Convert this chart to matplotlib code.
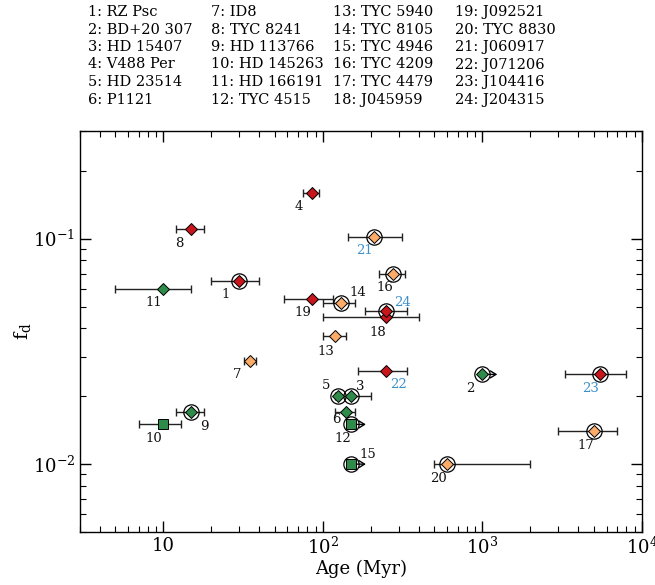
import numpy as np
import matplotlib
matplotlib.use("Agg")
from matplotlib import pyplot as plt
from matplotlib.ticker import FuncFormatter, LogLocator, NullFormatter

plt.rcParams['font.family'] = 'DejaVu Serif'
plt.rcParams['mathtext.fontset'] = 'dejavuserif'

# star names for the list on top
names = ["RZ Psc", "BD+20 307", "HD 15407", "V488 Per", "HD 23514", "P1121",
         "ID8", "TYC 8241", "HD 113766", "HD 145263", "HD 166191", "TYC 4515",
         "TYC 5940", "TYC 8105", "TYC 4946", "TYC 4209", "TYC 4479", "J045959",
         "J092521", "TYC 8830", "J060917", "J071206", "J104416", "J204315"]

# age (Myr) with lower / upper bound of the error bar (nan = no bar)
age = [30, 1000, 150, 85, 125, 140, 35, 15, 15, 10, 10, 150,
       120, 130, 150, 275, 5000, 250, 85, 600, 210, 250, 5500, 250]
age_lo = [20, np.nan, 120, 75, np.nan, 120, 32, 12, 12, 7, 5, np.nan,
          100, 100, np.nan, 225, 3000, 100, 57, 500, 143, 166, 3300, 185]
age_hi = [40, np.nan, 200, 95, np.nan, 160, 38, 18, 18, 13, 15, np.nan,
          140, 160, np.nan, 325, 7000, 400, 115, 2000, 315, 335, 7900, 335]

# fractional luminosity
fd = [0.065, 0.025, 0.020, 0.16, 0.020, 0.017, 0.0287, 0.11, 0.017, 0.015,
      0.060, 0.015, 0.037, 0.052, 0.010, 0.070, 0.014, 0.045, 0.054, 0.010,
      0.102, 0.026, 0.025, 0.048]

# r = red, g = green, o = orange
group = ["r", "g", "g", "r", "g", "g", "o", "r", "g", "g", "g", "g",
         "o", "o", "g", "o", "o", "r", "r", "o", "o", "r", "r", "r"]
square = [10, 12, 15]
circled = [1, 2, 3, 5, 9, 12, 14, 15, 16, 17, 20, 21, 23, 24]
lower_limit = [2, 12, 15]
blue_label = [21, 22, 23, 24]

colors = {"r": "#c8161d", "g": "#2e8b4a", "o": "#fdab68"}
# label offsets in points (dx, dy)
offs = {1: (-10, -10), 2: (-9, -10), 3: (7, 7), 4: (-9, -10), 5: (-9, 8),
        6: (-7, -5), 7: (-9, -10), 8: (-9, -10), 9: (9, -10), 10: (-7, -10),
        11: (-7, -10), 12: (-6, -10), 13: (-7, -11), 14: (12, 7), 15: (12, 7),
        16: (-6, -10), 17: (-6, -10), 18: (-6, -11), 19: (-6, -10),
        20: (-6, -10), 21: (-7, -10), 22: (9, -10), 23: (-7, -10), 24: (12, 6)}

fig = plt.figure(figsize=(6.55, 5.85), dpi=100)
ax = fig.add_axes([0.122, 0.0906, 0.858, 0.6854])

for i in range(len(age)):
    n = i + 1
    x, y = age[i], fd[i]
    if not np.isnan(age_lo[i]):
        ax.errorbar([x], [y], xerr=[[x - age_lo[i]], [age_hi[i] - x]], fmt='none',
                    ecolor='#222222', elinewidth=1, capsize=3, capthick=1, zorder=2)
    if n in lower_limit:
        ax.annotate('', xy=(x * 1.24, y), xytext=(x, y),
                    arrowprops=dict(arrowstyle='->,head_length=0.4,head_width=0.25',
                                    lw=1, color='k', shrinkA=0, shrinkB=0,
                                    mutation_scale=10), zorder=2)
    if n in circled:
        ax.plot(x, y, 'o', ms=11, mfc='none', mec='k', mew=0.9, zorder=3)
    if n in square:
        ax.plot(x, y, 's', ms=6.5, mfc=colors[group[i]], mec='k', mew=0.7, zorder=4)
    else:
        ax.plot(x, y, 'D', ms=6.5, mfc=colors[group[i]], mec='k', mew=0.7, zorder=4)
    lc = '#3d8fcc' if n in blue_label else '#111111'
    ax.annotate(str(n), (x, y), xytext=offs[n], textcoords='offset points',
                ha='center', va='center', fontsize=9.5, color=lc)

ax.set_xscale('log')
ax.set_yscale('log')
ax.set_xlim(3, 1e4)
ax.set_ylim(0.005, 0.3)


def xfmt(v, pos):
    e = int(round(np.log10(v)))
    if e == 1:
        return "10"
    return r"$10^{%d}$" % e


def yfmt(v, pos):
    e = int(round(np.log10(v)))
    return r"$10^{%d}$" % e


ax.xaxis.set_major_locator(LogLocator(base=10, numticks=10))
ax.xaxis.set_major_formatter(FuncFormatter(xfmt))
ax.yaxis.set_major_locator(LogLocator(base=10, numticks=10))
ax.yaxis.set_major_formatter(FuncFormatter(yfmt))
ax.xaxis.set_minor_formatter(NullFormatter())
ax.yaxis.set_minor_formatter(NullFormatter())
ax.tick_params(which='both', direction='in', top=True, right=True, labelsize=13)
ax.tick_params(which='major', length=8, width=1)
ax.tick_params(which='minor', length=4, width=0.8)
for s in ax.spines.values():
    s.set_linewidth(1)

ax.set_xlabel("Age (Myr)", fontsize=13, labelpad=1)
ax.set_ylabel(r"$\mathrm{f_d}$", fontsize=14, labelpad=0)

# list of names on top
col_x = [0.135, 0.322, 0.508, 0.695]
for i, nm in enumerate(names):
    c, r = i // 6, i % 6
    fig.text(col_x[c], 1 - (12 + r * 17.5) / 585, "%d: %s" % (i + 1, nm),
             fontsize=10.5, ha='left', va='center')

fig.savefig("out.png", dpi=100)
